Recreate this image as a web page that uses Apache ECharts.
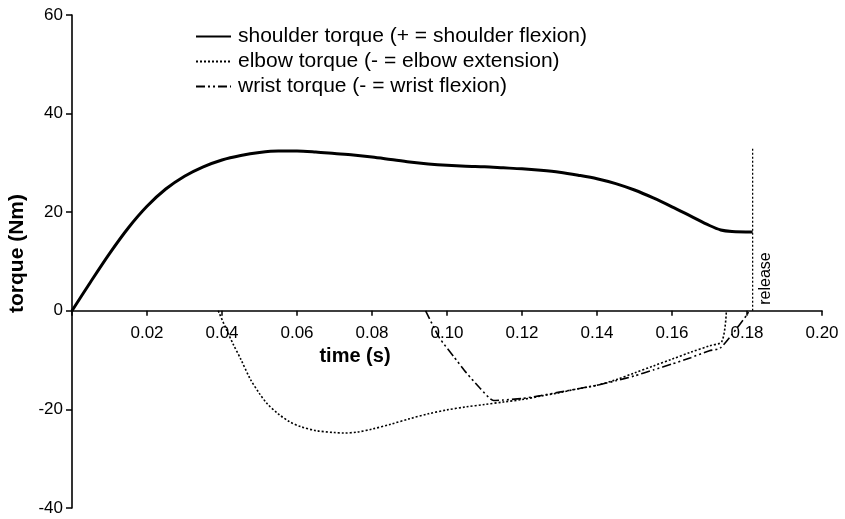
<!DOCTYPE html>
<html>
<head>
<meta charset="utf-8">
<script src="https://cdn.jsdelivr.net/npm/echarts@6/dist/echarts.min.js"></script>
<style>
  html, body { margin: 0; padding: 0; background: #fff; }
  #main { width: 845px; height: 519px; }
</style>
</head>
<body>
<div id="main"></div>
<script>
// 肩关节力矩 (time s, torque Nm)
var shoulderT = [0, 0.005, 0.010, 0.015, 0.020, 0.025, 0.030, 0.035, 0.040, 0.045, 0.050, 0.055, 0.060, 0.065, 0.070, 0.075, 0.080, 0.085, 0.090, 0.095, 0.100, 0.105, 0.110, 0.115, 0.120, 0.125, 0.130, 0.135, 0.140, 0.145, 0.150, 0.155, 0.160, 0.165, 0.170, 0.173, 0.176, 0.1815]
var shoulderV = [0, 5.9, 11.6, 16.8, 21.2, 24.7, 27.3, 29.2, 30.6, 31.5, 32.1, 32.4, 32.4, 32.2, 31.9, 31.6, 31.2, 30.7, 30.2, 29.8, 29.5, 29.3, 29.2, 29.0, 28.8, 28.5, 28.1, 27.5, 26.8, 25.8, 24.5, 22.9, 21.1, 19.2, 17.3, 16.4, 16.1, 16.0]
// 肘关节力矩
var elbowT = [0.039, 0.041, 0.043, 0.045, 0.0475, 0.050, 0.052, 0.055, 0.058, 0.061, 0.065, 0.070, 0.0725, 0.076, 0.080, 0.085, 0.090, 0.095, 0.100, 0.105, 0.110, 0.115, 0.120, 0.125, 0.130, 0.135, 0.140, 0.145, 0.150, 0.155, 0.160, 0.165, 0.170, 0.1733, 0.1745]
var elbowV = [0, -3.5, -6.8, -9.8, -13.8, -16.8, -18.8, -20.9, -22.5, -23.5, -24.3, -24.7, -24.8, -24.6, -24.0, -23.0, -21.9, -20.9, -20.1, -19.5, -19.0, -18.5, -18.0, -17.3, -16.6, -15.8, -15.1, -14.0, -12.6, -11.2, -9.8, -8.4, -7.1, -6.2, 0]
// 腕关节力矩
var wristT = [0.0943, 0.098, 0.1017, 0.1052, 0.1087, 0.1124, 0.115, 0.120, 0.125, 0.130, 0.135, 0.140, 0.145, 0.150, 0.155, 0.160, 0.165, 0.170, 0.1728, 0.176, 0.180, 0.1805]
var wristV = [0, -5.5, -9.2, -12.6, -15.6, -18.2, -18.1, -17.8, -17.2, -16.5, -15.8, -15.1, -14.2, -13.2, -12.0, -10.8, -9.5, -8.1, -7.6, -4.8, -0.8, 0]
// release 竖线
var releaseT = [0.1815, 0.1815]
var releaseV = [0, 33]

var xTicks = [0, 0.02, 0.04, 0.06, 0.08, 0.10, 0.12, 0.14, 0.16, 0.18, 0.20]
var yTicks = [-40, -20, 0, 20, 40, 60]

function pairs (t, v) {
  var out = []
  for (var i = 0; i < t.length; i++) out.push([t[i], v[i]])
  return out
}

var font = 'Liberation Sans, Arial, Helvetica, sans-serif'
var gridTop = 15
var gridBottom = 11
var yMin = yTicks[0]
var yMax = yTicks[yTicks.length - 1]
// x轴放在 y=0 处: 向上偏移
var xOffset = -(519 - gridTop - gridBottom) * (0 - yMin) / (yMax - yMin)

var myChart = echarts.init(document.getElementById('main'), null, { renderer: 'canvas' })

var option = {
  backgroundColor: '#fff',
  animation: false,
  grid: { left: 72, right: 23, top: gridTop, bottom: gridBottom, containLabel: false, outerBoundsMode: 'none' },
  legend: {
    orient: 'vertical',
    left: 195,
    top: 25,
    padding: 0,
    itemWidth: 35,
    itemHeight: 14,
    itemGap: 2,
    itemStyle: { opacity: 0 },
    data: ['shoulder torque (+ = shoulder flexion)', 'elbow torque (- = elbow extension)', 'wrist torque (- = wrist flexion)'],
    textStyle: { fontFamily: font, fontSize: 21, lineHeight: 23, color: '#000', padding: [0, 0, 0, 2] }
  },
  xAxis: {
    type: 'value',
    min: xTicks[0],
    max: xTicks[xTicks.length - 1],
    interval: 0.02,
    offset: xOffset,
    name: 'time (s)',
    nameLocation: 'middle',
    nameGap: 19,
    nameTextStyle: { fontFamily: font, fontSize: 20, fontWeight: 'bold', color: '#000', padding: [0, 184, 0, 0] },
    axisLine: { onZero: false, lineStyle: { color: '#000', width: 1.6 } },
    axisTick: { show: true, length: 5, lineStyle: { color: '#000', width: 1.5 } },
    axisLabel: {
      margin: 14,
      fontFamily: font, fontSize: 17, color: '#000',
      formatter: function (v) { return v === 0 ? '' : v.toFixed(2) }
    },
    splitLine: { show: false }
  },
  yAxis: {
    type: 'value',
    min: yMin,
    max: yMax,
    interval: 20,
    name: 'torque (Nm)',
    nameLocation: 'middle',
    nameGap: 43,
    nameTextStyle: { fontFamily: font, fontSize: 21, fontWeight: 'bold', color: '#000', padding: [0, 0, 0, 16] },
    axisLine: { show: true, onZero: false, lineStyle: { color: '#000', width: 1.6 } },
    axisTick: { show: true, length: 6, lineStyle: { color: '#000', width: 1.5 } },
    axisLabel: { margin: 9, fontFamily: font, fontSize: 17, color: '#000' },
    splitLine: { show: false }
  },
  series: [
    {
      name: 'shoulder torque (+ = shoulder flexion)',
      type: 'line',
      data: pairs(shoulderT, shoulderV),
      smooth: 0.3,
      symbol: 'none',
      lineStyle: { color: '#000', width: 3 },
      itemStyle: { color: '#000' }
    },
    {
      name: 'elbow torque (- = elbow extension)',
      type: 'line',
      data: pairs(elbowT, elbowV),
      smooth: 0.3,
      symbol: 'none',
      lineStyle: { color: '#000', width: 1.6, type: [2, 2] },
      itemStyle: { color: '#000' }
    },
    {
      name: 'wrist torque (- = wrist flexion)',
      type: 'line',
      data: pairs(wristT, wristV),
      smooth: 0.2,
      symbol: 'none',
      lineStyle: { color: '#000', width: 1.6, type: [9, 3, 2, 3, 2, 3] },
      itemStyle: { color: '#000' }
    },
    {
      name: 'release',
      type: 'line',
      data: pairs(releaseT, releaseV),
      symbol: 'none',
      lineStyle: { color: '#000', width: 1.3, type: [2, 2] },
      itemStyle: { color: '#000' }
    }
  ]
}
myChart.setOption(option)

// release 文本，位置由坐标换算
var p0 = myChart.convertToPixel({ gridIndex: 0 }, [releaseT[0], releaseV[0]])
myChart.setOption({
  graphic: [{
    type: 'text',
    x: p0[0] + 13,
    y: p0[1] - 6,
    rotation: Math.PI / 2,
    style: { text: 'release', fontFamily: font, fontSize: 16, fill: '#000', align: 'left', verticalAlign: 'middle' }
  }]
})
</script>
</body>
</html>
